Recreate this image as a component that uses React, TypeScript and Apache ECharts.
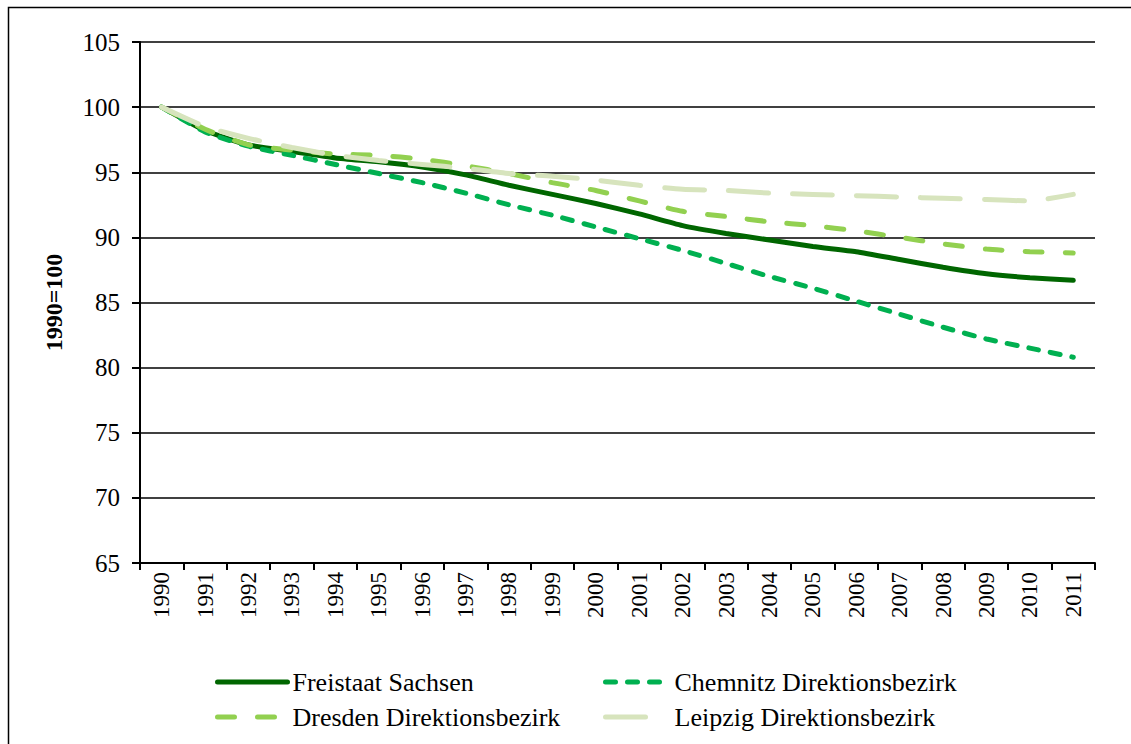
import React, { useEffect, useRef } from "react";
import * as echarts from "echarts";

const years = ["1990","1991","1992","1993","1994","1995","1996","1997","1998","1999","2000","2001","2002","2003","2004","2005","2006","2007","2008","2009","2010","2011"];
const yTicks = { min: 65, max: 105, interval: 5 };
const freistaat = [100, 98.2, 97.1, 96.6, 96.1, 95.8, 95.4, 94.8, 94.0, 93.3, 92.6, 91.8, 90.9, 90.3, 89.8, 89.3, 88.9, 88.3, 87.7, 87.2, 86.9, 86.7];
const chemnitz = [100, 98.1, 97.0, 96.3, 95.6, 94.9, 94.2, 93.4, 92.5, 91.7, 90.8, 89.9, 89.0, 88.0, 87.0, 86.1, 85.1, 84.1, 83.1, 82.2, 81.5, 80.8];
const dresden = [100, 98.3, 97.1, 96.7, 96.4, 96.3, 96.0, 95.5, 94.9, 94.2, 93.6, 92.8, 92.0, 91.6, 91.2, 90.9, 90.5, 90.0, 89.5, 89.1, 88.9, 88.8];
const leipzig = [100, 98.5, 97.6, 96.9, 96.3, 95.9, 95.6, 95.3, 94.9, 94.7, 94.4, 94.0, 93.7, 93.6, 93.4, 93.3, 93.2, 93.1, 93.0, 92.9, 92.8, 93.3];
const names = ["Freistaat Sachsen", "Chemnitz Direktionsbezirk", "Dresden Direktionsbezirk", "Leipzig Direktionsbezirk"];

const FONT = "Liberation Serif";

export default function App() {
  const ref = useRef<HTMLDivElement>(null);
  useEffect(() => {
    if (!ref.current) return;
    const chart = echarts.init(ref.current, null, { renderer: "svg" });
    const mk = (name: string, data: number[], color: string, dash: any) => ({
      name,
      type: "line",
      data,
      smooth: 0.2,
      symbol: "none",
      lineStyle: { color, width: 5, type: dash, cap: "round" },
      itemStyle: { color },
    });
    const legendBase = {
      orient: "vertical",
      top: 669,
      itemHeight: 14,
      itemGap: 9,
      padding: 0,
      itemStyle: { opacity: 0, borderWidth: 0 },
      lineStyle: { width: 5, cap: "round" },
      textStyle: { fontFamily: FONT, fontSize: 26, color: "#000" },
    };
    chart.setOption({
      animation: false,
      backgroundColor: "#fff",
      textStyle: { fontFamily: FONT, color: "#000" },
      graphic: [
        {
          type: "rect",
          left: 6,
          top: 5,
          shape: { width: 1200, height: 800 },
          style: { fill: "none", stroke: "#000", lineWidth: 1.5 },
          silent: true,
        },
      ],
      grid: { left: 140, right: 36, top: 42, bottom: 181, containLabel: false },
      legend: [
        { ...legendBase, data: [names[0], names[2]], left: 215, itemWidth: 70 },
        { ...legendBase, data: [names[1], names[3]], left: 603, itemWidth: 64 },
      ],
      xAxis: {
        type: "category",
        data: years,
        boundaryGap: true,
        axisLine: { lineStyle: { color: "#000", width: 2 } },
        axisTick: { show: true, length: 7, inside: false, lineStyle: { color: "#000", width: 2 } },
        axisLabel: { rotate: 90, fontSize: 23, color: "#000", fontFamily: FONT, margin: 9, interval: 0 },
      },
      yAxis: {
        type: "value",
        min: yTicks.min,
        max: yTicks.max,
        interval: yTicks.interval,
        name: "1990=100",
        nameLocation: "middle",
        nameGap: 74,
        nameTextStyle: { fontFamily: FONT, fontSize: 24, fontWeight: "bold", color: "#000" },
        axisLine: { show: true, lineStyle: { color: "#000", width: 2 } },
        axisTick: { show: true, length: 8, inside: false, lineStyle: { color: "#000", width: 2 } },
        axisLabel: { fontSize: 25, color: "#000", fontFamily: FONT, margin: 20 },
        splitLine: { show: true, lineStyle: { color: "#000", width: 1.5 } },
      },
      series: [
        mk(names[0], freistaat, "#006600", "solid"),
        mk(names[1], chemnitz, "#00B050", [10, 12]),
        mk(names[2], dresden, "#92D050", [17, 23]),
        mk(names[3], leipzig, "#D7E4BD", [40, 24]),
      ],
    });
    return () => chart.dispose();
  }, []);
  return (
    <div
      ref={ref}
      style={{ position: "fixed", left: 0, top: 0, width: 1131, height: 744, background: "#fff" }}
    />
  );
}
